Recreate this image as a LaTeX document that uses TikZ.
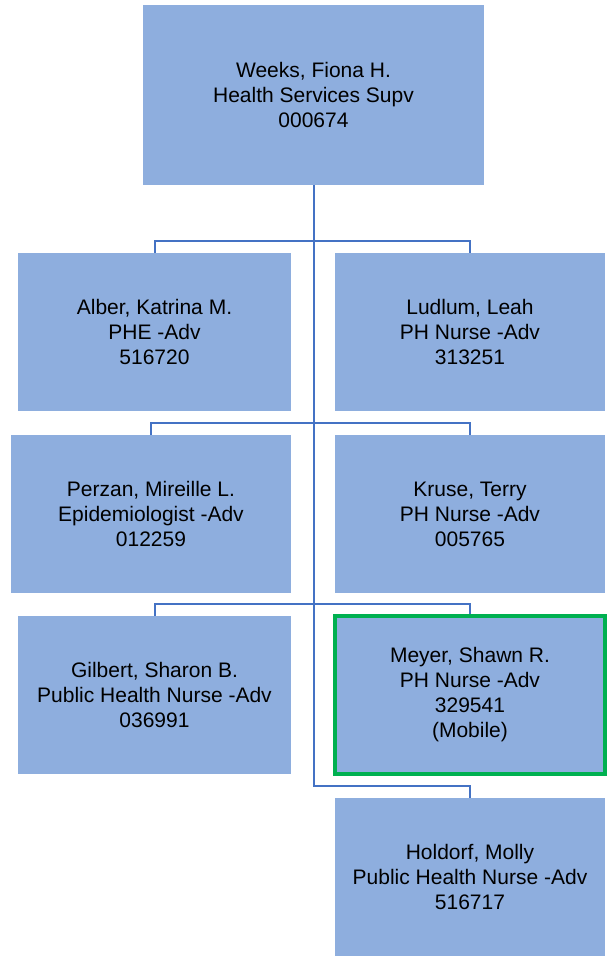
\documentclass[tikz,border=0pt]{standalone}
\usepackage{fontspec}
\setmainfont{Liberation Sans}
\usepackage{tikz}
\usetikzlibrary{positioning,calc}
\usepackage{xcolor}
\definecolor{orgfill}{RGB}{142,174,222}
\definecolor{orgline}{RGB}{68,114,196}
\definecolor{orggreen}{RGB}{0,176,80}
\tikzset{
    person/.style={rectangle, fill=orgfill, inner sep=0pt, align=center, minimum height=158pt, font=\fontsize{21}{25}\selectfont},
    personG/.style={person, draw=orggreen, line width=3.5pt},
    link/.style={draw=orgline, line width=2pt},
}

\begin{document}
\begin{tikzpicture}[x=1pt, y=-1pt]
    \useasboundingbox (0,0) rectangle (606,956);

    % Supervisor
    \node[person, minimum width=341pt, minimum height=180pt] (boss) at (313.5, 95) {Weeks, Fiona H.\\Health Services Supv\\000674};

    % Staff
    \foreach \name/\x/\y/\w/\txt in {
        l1/154.5/332/273/{Alber, Katrina M.\\PHE -Adv\\516720},
        r1/470/332/270/{Ludlum, Leah\\PH Nurse -Adv\\313251},
        l2/151/514/280/{Perzan, Mireille L.\\Epidemiologist -Adv\\012259},
        r2/470/514/270/{Kruse, Terry\\PH Nurse -Adv\\005765},
        l3/154.5/695/273/{Gilbert, Sharon B.\\Public Health Nurse -Adv\\036991},
        h4/470/877/270/{Holdorf, Molly\\Public Health Nurse -Adv\\516717}} {
        \node[person, minimum width=\w pt] (\name) at (\x, \y) {\txt};
    }
    \node[personG, minimum width=270pt] (r3) at (470, 695) {Meyer, Shawn R.\\PH Nurse -Adv\\329541\\(Mobile)};

    % Connectors
    \draw[link] (boss.south) |- ([yshift=12pt]h4.north) -- (h4.north);
    \foreach \row in {1,2,3} {
        \draw[link] (l\row.north) -- ([yshift=12pt]l\row.north) -| (r\row.north);
    }
\end{tikzpicture}
\end{document}
